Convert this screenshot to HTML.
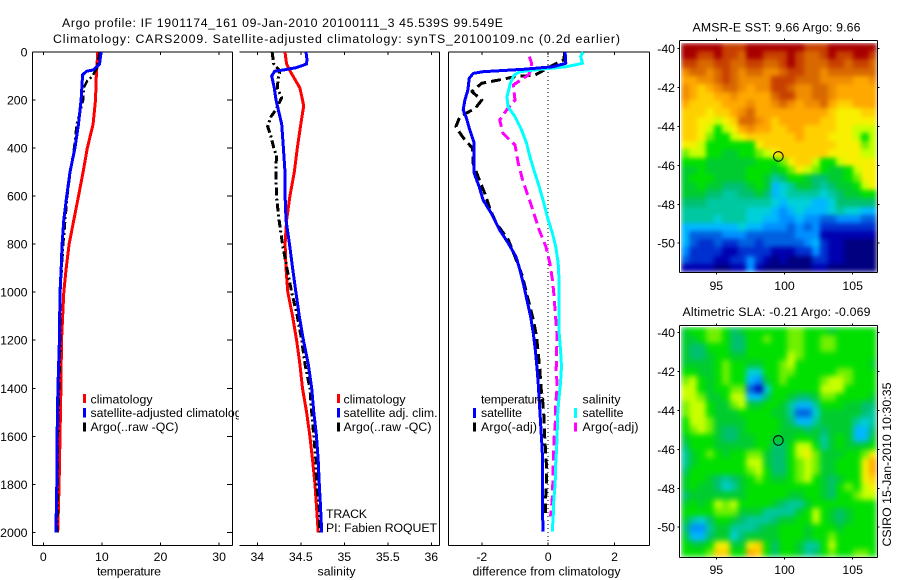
<!DOCTYPE html>
<html lang="en">
<head>
<meta charset="utf-8">
<title>Argo profile chart</title>
<style>
html,body{margin:0;padding:0;background:#fff;}
svg{display:block;font-family:"Liberation Sans",sans-serif;font-size:12.3px;fill:#000;}
</style>
</head>
<body>
<svg id="figure" width="900" height="580" viewBox="0 0 900 580" xmlns="http://www.w3.org/2000/svg">
  <defs>
    <clipPath id="panel1-legend-clip"><rect x="0" y="380" width="239" height="60"/></clipPath>
    <filter id="sst-soften" filterUnits="userSpaceOnUse" x="681" y="43" width="196" height="229" color-interpolation-filters="sRGB">
      <feGaussianBlur stdDeviation="2.4" edgeMode="duplicate"/>
    </filter>
    <filter id="sla-soften" filterUnits="userSpaceOnUse" x="681" y="327" width="196" height="230" color-interpolation-filters="sRGB">
      <feGaussianBlur stdDeviation="2.8" edgeMode="duplicate"/>
    </filter>
  </defs>
  <text x="62" y="27" textLength="441">Argo profile: IF 1901174_161 09-Jan-2010 20100111_3 45.539S 99.549E</text>
  <text x="53" y="43" textLength="567">Climatology: CARS2009. Satellite-adjusted climatology: synTS_20100109.nc (0.2d earlier)</text>

  <g id="panel-temp"></g>
  <g id="panel-sal"></g>
  <g id="panel-diff"></g>
  <g id="map-sst"></g>
  <g id="map-sla"></g>

  <text x="97" y="575.5" textLength="64">temperature</text>
  <text x="317.5" y="575.5" textLength="38">salinity</text>
  <text x="472.5" y="575.5" textLength="148">difference from climatology</text>

  <g>
    <rect x="83" y="394" width="3" height="9" fill="#f00"/>
    <text x="90.5" y="403.5" textLength="62">climatology</text>
    <rect x="83" y="408" width="3" height="9.5" fill="#00f"/>
    <text x="90.5" y="417" clip-path="url(#panel1-legend-clip)">satellite-adjusted climatology</text>
    <rect x="83" y="422.5" width="3" height="9" fill="#000"/>
    <text x="90.5" y="431" textLength="88">Argo(..raw -QC)</text>
  </g>
  <g>
    <rect x="337" y="394" width="3" height="9" fill="#f00"/>
    <text x="343.5" y="403.5" textLength="62">climatology</text>
    <rect x="337" y="408" width="3" height="9.5" fill="#00f"/>
    <text x="343.5" y="417" textLength="94">satellite adj. clim.</text>
    <rect x="337" y="422.5" width="3" height="9" fill="#000"/>
    <text x="343.5" y="431" textLength="88">Argo(..raw -QC)</text>
  </g>
  <g>
    <text x="481" y="403.5" textLength="64">temperature</text>
    <rect x="473" y="408" width="3" height="10" fill="#00f"/>
    <text x="481" y="417" textLength="41">satellite</text>
    <rect x="473" y="422.5" width="3" height="9" fill="#000"/>
    <text x="481" y="431" textLength="56">Argo(-adj)</text>
    <text x="582.5" y="403.5" textLength="38">salinity</text>
    <rect x="574" y="408" width="3" height="10" fill="#0ff"/>
    <text x="582.5" y="417" textLength="41">satellite</text>
    <rect x="574" y="422.5" width="3" height="9" fill="#f0f"/>
    <text x="582.5" y="431" textLength="56">Argo(-adj)</text>
  </g>

  <text x="326" y="518" textLength="41">TRACK</text>
  <text x="326" y="532" textLength="111">PI: Fabien ROQUET</text>

  <text x="692.5" y="31.5" textLength="168">AMSR-E SST: 9.66 Argo: 9.66</text>
  <text x="682.5" y="316" textLength="188">Altimetric SLA: -0.21 Argo: -0.069</text>
  <text transform="translate(891,546.5) rotate(-90)" textLength="164">CSIRO 15-Jan-2010 10:30:35</text>
</svg>
<script>
/* ---------- depth ticks ---------- */
const depthTicks = [0,200,400,600,800,1000,1200,1400,1600,1800,2000];
const tempTicks = [0,10,20,30];
const salTicks = [34,34.5,35,35.5,36];
const salTickLabels = ['34','34.5','35','35.5','36'];
const diffTicks = [-2,0,2];
const lonTicks = [95,100,105];
const latTicks = [-40,-42,-44,-46,-48,-50];
const argoLon = 99.549;
const argoLat = -45.539;

/* ---------- temperature profiles ---------- */
const tempClimDepth = [0,100,200,300,400,500,600,700,800,900,1000,1200,1400,1600,1800,2000];
const tempClimValue = [9.3,9.05,8.9,8.5,7.5,6.8,6.0,5.2,4.4,3.9,3.5,3.1,3.0,2.85,2.7,2.45];
const tempSatDepth = [0,50,75,80,95,200,300,400,500,600,700,800,900,1000,1200,1400,1600,1800,2000];
const tempSatValue = [9.85,9.6,8.5,7.4,6.7,6.45,6.0,5.4,4.55,4.0,3.5,3.2,3.05,2.85,2.75,2.5,2.35,2.3,2.15];
const tempArgoDepth = [0,70,100,120,150,200,250,300,400,500,600,800,1000,1200,1400,1600,1800,2000];
const tempArgoValue = [9.6,9.1,8.4,7.5,6.9,6.8,6.3,5.7,5.25,4.6,4.1,3.4,2.9,2.9,2.7,2.5,2.45,2.4];

/* ---------- salinity profiles ---------- */
const salClimDepth = [0,50,75,100,150,200,225,300,400,500,600,700,800,900,1000,1100,1200,1300,1400,1500,1600,1700,1800,1900,2000];
const salClimValue = [34.318,34.337,34.37,34.41,34.49,34.52,34.533,34.5,34.46,34.425,34.375,34.337,34.32,34.33,34.35,34.406,34.452,34.49,34.52,34.567,34.605,34.636,34.663,34.682,34.7];
const salSatDepth = [0,30,50,65,75,80,100,150,200,300,400,500,600,700,800,900,1000,1100,1200,1300,1400,1500,1600,1700,1800,1900,2000];
const salSatValue = [34.56,34.57,34.567,34.45,34.3,34.2,34.165,34.195,34.215,34.28,34.3,34.318,34.32,34.33,34.37,34.406,34.444,34.483,34.53,34.586,34.625,34.65,34.68,34.7,34.713,34.728,34.74];
const salArgoDepth = [0,50,80,110,150,190,240,270,310,350,400,430,500,600,700,800,900,1000,1100,1200,1300,1400,1500,1600,1700,1800,1900,2000];
const salArgoValue = [34.17,34.19,34.26,34.24,34.23,34.28,34.215,34.155,34.12,34.155,34.19,34.22,34.215,34.22,34.25,34.29,34.34,34.395,34.46,34.51,34.548,34.605,34.625,34.65,34.674,34.68,34.713,34.72];

/* ---------- differences from climatology ---------- */
const diffTempSatDepth = [0,47,61,72,82,89,110,158,200,241,276,325,380,436,505,560,616,672,741,797,852,908,963,1026,1101,1171,1240,1310,1379,1448,1518,1587,1657,1726,1795,1865,1934,1997];
const diffTempSatValue = [0.51,0.53,0.15,-0.75,-1.96,-2.26,-2.38,-2.42,-2.51,-2.56,-2.46,-2.36,-2.23,-2.23,-2.23,-2.08,-1.96,-1.71,-1.46,-1.2,-0.97,-0.85,-0.75,-0.65,-0.53,-0.45,-0.39,-0.34,-0.3,-0.27,-0.24,-0.21,-0.18,-0.17,-0.17,-0.17,-0.17,-0.15];
const diffTempArgoDepth = [0,33,54,96,103,117,130,165,200,235,269,311,353,401,464,519,589,658,713,783,852,935,1005,1115,1185,1254,1323,1393,1448,1518,1587,1657,1726,1795,1865,1920];
const diffTempArgoValue = [0.5,0.47,0.15,-0.4,-1.0,-1.5,-2.0,-2.3,-2.0,-2.2,-2.66,-2.78,-2.58,-2.28,-2.26,-2.11,-1.91,-1.74,-1.56,-1.2,-1.0,-0.77,-0.65,-0.45,-0.35,-0.3,-0.25,-0.22,-0.17,-0.13,-0.11,-0.08,-0.05,-0.05,-0.08,-0.08];
const diffSalSatDepth = [0,19,47,61,72,82,96,130,186,228,269,325,380,436,505,560,630,700,755,811,880,963,1026,1101,1171,1240,1310,1379,1448,1518,1587,1657,1726,1795,1865,1934,1997];
const diffSalSatValue = [1.05,0.98,1.03,0.55,-0.25,-0.85,-1.03,-1.14,-1.24,-1.21,-1.0,-0.8,-0.65,-0.55,-0.4,-0.27,-0.13,0,0.13,0.23,0.3,0.33,0.33,0.33,0.33,0.37,0.4,0.37,0.32,0.28,0.27,0.25,0.22,0.21,0.17,0.15,0.12];
const diffSalArgoDepth = [19,47,68,96,137,200,241,283,339,387,464,533,602,672,741,811,880,950,1005,1115,1185,1254,1323,1393,1462,1532,1601,1671,1726,1795,1865,1934];
const diffSalArgoValue = [-0.57,-0.5,-0.5,-0.6,-1.05,-1.0,-1.25,-1.46,-1.36,-1.0,-0.9,-0.77,-0.6,-0.43,-0.27,-0.07,0.05,0.13,0.17,0.23,0.27,0.25,0.24,0.27,0.23,0.22,0.18,0.16,0.15,0.14,0.12,0.07];

/* ---------- maps: colour level of each grid cell, north to south ---------- */
const sstLevels = [
[19,19,19,19,19,18,18,18,19,19,19,19,19,19,19,18,18,18,19,19,19,19,19,19],
[19,19,18,18,19,18,18,17,19,19,18,18,18,19,18,17,17,18,19,18,18,19,19,18],
[18,18,17,17,18,18,17,17,18,18,17,17,18,19,18,17,17,17,18,18,17,18,18,17],
[16,17,17,16,17,18,17,16,17,17,16,16,17,18,18,17,17,16,17,17,17,17,17,17],
[15,15,16,16,17,18,17,16,16,16,16,18,18,18,17,17,17,16,16,16,16,15,15,16],
[16,15,14,15,16,17,17,16,15,16,16,18,18,17,16,16,17,17,16,15,15,15,15,15],
[16,15,14,14,15,15,16,15,15,15,15,17,18,18,16,16,17,17,16,15,15,15,15,15],
[15,14,14,14,14,15,15,15,16,15,15,16,17,16,15,16,16,17,15,14,14,15,15,15],
[14,14,14,13,14,14,15,16,17,15,15,15,15,15,15,15,15,15,14,13,13,13,14,14],
[14,14,13,13,12,13,14,17,17,16,15,14,15,15,15,15,15,14,14,13,13,13,13,13],
[14,14,13,12,10,12,13,15,16,15,15,14,14,15,15,14,14,14,14,13,13,12,12,12],
[14,14,13,11,10,10,12,13,14,14,14,14,14,14,15,14,14,14,13,13,13,12,10,12],
[13,13,12,10,10,10,10,10,10,13,14,14,14,14,14,14,14,14,14,13,13,13,11,12],
[11,12,12,10,10,9,9,10,10,11,12,13,14,14,14,14,14,14,13,13,13,13,12,12],
[10,10,10,9,9,9,9,9,9,10,10,10,11,13,14,14,12,10,10,12,13,13,13,13],
[9,9,10,9,9,9,9,9,10,10,10,9,10,11,13,12,11,10,9,9,10,12,13,13],
[9,10,10,10,9,9,9,9,10,10,9,7,8,10,10,9,8,8,9,9,10,11,13,13],
[9,9,10,9,9,8,8,8,9,10,9,5,6,7,9,9,8,7,8,9,9,10,12,13],
[9,9,9,8,8,7,7,8,8,9,8,5,6,7,7,7,7,6,7,8,9,9,10,10],
[8,8,8,7,7,7,7,7,7,7,7,6,5,6,6,6,5,5,6,8,8,8,8,8],
[7,7,7,7,7,7,7,7,6,6,6,5,4,5,6,5,5,5,6,7,6,6,5,5],
[7,7,7,7,6,7,7,7,6,6,5,5,4,4,5,4,4,3,3,4,4,4,3,3],
[5,5,5,5,5,5,5,6,5,5,4,4,4,3,4,3,4,2,2,2,2,2,2,2],
[5,3,3,3,3,4,4,4,3,3,3,3,3,3,4,4,4,1,1,1,1,1,1,1],
[5,3,2,2,3,2,2,3,3,2,3,3,3,3,3,4,5,2,1,1,0,0,0,0],
[4,2,2,2,2,1,1,2,2,2,2,1,1,1,2,2,4,2,1,1,0,0,0,0],
[3,2,2,2,1,1,2,2,4,2,1,0,1,0,0,0,2,2,1,1,0,0,0,0],
[1,1,1,1,0,0,1,1,4,1,0,0,0,0,0,0,1,1,0,0,0,0,0,0]
];
const slaLevels = [
[9,10,10,11,11,10,8,9,10,10,10,10,10,11,11,10,10,10,9,10,10,10,10,10],
[9,9,10,11,11,10,8,8,10,10,11,10,10,11,11,10,10,11,11,10,10,10,10,10],
[9,8,8,10,10,10,8,8,10,10,10,10,10,11,11,10,10,11,11,10,10,10,10,10],
[9,8,8,9,10,10,9,9,10,10,10,10,10,12,11,10,10,10,10,10,10,10,10,10],
[9,9,9,9,10,11,10,10,9,9,10,10,11,12,10,10,10,10,10,10,10,10,10,9],
[10,10,9,9,10,11,10,10,6,6,10,10,11,11,10,10,10,10,10,11,11,10,10,10],
[11,12,10,9,10,11,10,10,5,4,9,10,11,10,10,10,10,11,12,12,11,10,10,10],
[12,12,10,9,10,10,11,11,3,1,6,10,10,10,10,10,10,12,12,12,10,10,10,10],
[12,12,11,9,9,10,12,12,5,5,8,10,10,9,8,8,9,11,11,10,10,10,10,9],
[11,12,12,10,9,9,11,12,9,9,10,10,9,7,5,5,7,10,10,10,9,9,8,8],
[11,12,12,10,9,9,9,10,10,10,10,9,9,7,3,3,6,9,9,9,9,9,8,7],
[10,12,12,11,9,9,9,9,10,10,10,10,9,8,5,5,7,9,9,9,9,7,6,7],
[10,11,12,11,9,8,8,9,10,10,10,10,9,9,9,8,9,8,9,9,9,5,5,8],
[9,10,10,10,9,8,8,9,9,10,10,9,9,9,10,10,9,7,9,10,9,5,5,9],
[8,10,10,10,9,9,9,9,9,10,10,8,8,10,12,12,10,7,9,10,9,9,9,10],
[7,9,10,11,10,9,10,10,11,11,9,8,8,10,12,13,11,9,9,9,10,10,11,13],
[7,9,10,10,10,10,10,10,12,12,9,8,8,10,11,12,11,9,9,10,10,10,13,15],
[8,10,10,10,10,10,10,10,11,12,10,8,8,10,11,12,11,9,9,10,10,10,13,15],
[9,10,10,9,8,7,8,9,10,11,10,9,9,10,11,12,10,9,8,9,10,10,13,14],
[9,10,9,9,8,6,7,9,10,10,10,10,10,10,10,10,10,9,8,10,11,10,12,13],
[8,9,9,9,9,9,9,9,10,10,10,10,10,9,9,10,10,9,8,10,10,11,12,12],
[9,10,9,10,12,11,12,10,10,10,10,9,8,7,7,9,10,10,10,10,10,10,10,10],
[10,10,10,10,11,11,11,9,9,9,7,7,7,7,9,10,12,10,9,8,9,10,10,10],
[9,7,6,8,10,10,9,8,7,7,7,8,9,9,10,10,12,10,9,8,9,10,10,10],
[8,4,4,7,9,9,7,7,7,8,9,9,10,10,10,9,10,10,10,9,10,10,10,10],
[9,5,5,8,9,9,6,8,9,9,9,9,10,10,10,9,10,10,11,10,10,10,10,10],
[10,9,9,10,13,13,9,9,13,14,10,8,10,10,9,7,7,10,12,10,10,10,10,10],
[10,10,10,11,14,14,10,10,15,14,10,8,10,10,9,7,8,10,11,10,10,11,11,10]
];

/* ---------- scales and palette ---------- */
const palette = ['#000080','#0000b0','#0030d0','#0060e0','#0090ff','#00b8ff','#00d0d8','#00c8a0','#00c070','#00cc30','#00e000','#70f000','#c8ff00','#f8f000','#ffd000','#ffa800','#f08c00','#d86800','#c84000','#a80000'];
const NS = 'http://www.w3.org/2000/svg';
const yDepth = d => 52 + d * 0.2402;
const xTemp = v => 43.3 + v * 5.86;
const xSal = v => 257.3 + (v - 34) * 87;
const xDiff = v => 548.2 + v * 33.2;
const xLon = lon => 716.3 + (lon - 95) * 13.64;
const yLatSst = lat => 48.7 + (-40 - lat) * 19.45;
const yLatSla = lat => 332.7 + (-40 - lat) * 19.45;

function mk(tag, parent, attrs, txt) {
  const el = document.createElementNS(NS, tag);
  for (const k in attrs) el.setAttribute(k, attrs[k]);
  if (txt !== undefined) el.textContent = txt;
  parent.appendChild(el);
  return el;
}
function seg(parent, x1, y1, x2, y2, name) {
  const el = mk('line', parent, {x1: x1, y1: y1, x2: x2, y2: y2, stroke: '#000', 'stroke-width': 1, 'shape-rendering': 'crispEdges'});
  
  
  return el;
}
function label(parent, x, y, anchor, txt, name) {
  const el = mk('text', parent, {x: x, y: y, 'text-anchor': anchor}, txt);
  
  
  return el;
}
function profile(parent, depths, values, xScale, color, width, dash, name) {
  const pts = depths.map((d, i) => xScale(values[i]).toFixed(1) + ',' + yDepth(d).toFixed(1)).join(' ');
  const el = mk('polyline', parent, {points: pts, fill: 'none', stroke: color, 'stroke-width': width, 'stroke-linejoin': 'round', 'shape-rendering': 'crispEdges'});
  if (dash) el.setAttribute('stroke-dasharray', dash);
  
  
  return el;
}
function panelFrame(parent, left, right, drawLeft, drawRight, name) {
  const top = 52, bottom = 545.5;
  seg(parent, left, top, right, top, name + '-top-edge');
  seg(parent, left, bottom, right, bottom, name + '-bottom-edge');
  if (drawLeft) seg(parent, left, top, left, bottom, name + '-left-edge');
  if (drawRight) seg(parent, right, top, right, bottom, name + '-right-edge');
}
function xAxis(parent, ticks, labels, xScale, name) {
  ticks.forEach((t, i) => {
    const x = xScale(t);
    seg(parent, x, 545.5, x, 542.5, name + '-tick-bottom');
    seg(parent, x, 52, x, 55, name + '-tick-top');
    label(parent, x, 561, 'middle', labels[i], name + '-tick-label');
  });
}

/* ---------- temperature panel ---------- */
const pTemp = document.getElementById('panel-temp');
panelFrame(pTemp, 32.5, 232.5, true, true, 'temperature-panel');
xAxis(pTemp, tempTicks, tempTicks.map(String), xTemp, 'temperature-x');
depthTicks.forEach(d => {
  const y = yDepth(d);
  seg(pTemp, 32.5, y, 35.5, y, 'depth-tick-left');
  seg(pTemp, 227, y, 232.5, y, 'depth-tick-right');
  label(pTemp, 27.5, y + 4.5, 'end', String(d), 'depth-tick-label');
});
profile(pTemp, tempClimDepth, tempClimValue, xTemp, '#f00', 3, null, 'temperature-climatology-line');
profile(pTemp, tempArgoDepth, tempArgoValue, xTemp, '#000', 2.5, '8 3 2 3', 'temperature-argo-line');
profile(pTemp, tempSatDepth, tempSatValue, xTemp, '#00f', 3, null, 'temperature-satellite-line');

/* ---------- salinity panel ---------- */
const pSal = document.getElementById('panel-sal');
panelFrame(pSal, 239.5, 439.5, false, true, 'salinity-panel');
xAxis(pSal, salTicks, salTickLabels, xSal, 'salinity-x');
profile(pSal, salClimDepth, salClimValue, xSal, '#f00', 3, null, 'salinity-climatology-line');
profile(pSal, salArgoDepth, salArgoValue, xSal, '#000', 3, '8 3 2 3', 'salinity-argo-line');
profile(pSal, salSatDepth, salSatValue, xSal, '#00f', 3, null, 'salinity-satellite-line');

/* ---------- difference panel ---------- */
const pDiff = document.getElementById('panel-diff');
panelFrame(pDiff, 448.5, 649.5, true, true, 'difference-panel');
xAxis(pDiff, diffTicks, diffTicks.map(String), xDiff, 'difference-x');
const zeroLine = mk('line', pDiff, {x1: xDiff(0), y1: 52, x2: xDiff(0), y2: 545, stroke: '#000', 'stroke-width': 1, 'stroke-dasharray': '1 3', 'shape-rendering': 'crispEdges'});


profile(pDiff, diffTempArgoDepth, diffTempArgoValue, xDiff, '#000', 3, '10 5', 'difference-temperature-argo-line');
profile(pDiff, diffSalArgoDepth, diffSalArgoValue, xDiff, '#f0f', 3, '10 5', 'difference-salinity-argo-line');
profile(pDiff, diffSalSatDepth, diffSalSatValue, xDiff, '#0ff', 3, null, 'difference-salinity-satellite-line');
profile(pDiff, diffTempSatDepth, diffTempSatValue, xDiff, '#00f', 3, null, 'difference-temperature-satellite-line');

/* ---------- maps ---------- */
function drawMap(parent, levels, imgTop, imgBottom, boxTop, boxBottom, yLat, xLabelY, softenId, name) {
  const imgLeft = 681, imgRight = 877;
  const rows = levels.length, cols = levels[0].length;
  const cw = (imgRight - imgLeft) / cols, ch = (imgBottom - imgTop) / rows;
  const cellGroup = mk('g', parent, {filter: 'url(#' + softenId + ')'});
  
  
  levels.forEach((row, r) => {
    row.forEach((lv, c) => {
      const x0 = Math.round(imgLeft + c * cw), x1 = Math.round(imgLeft + (c + 1) * cw);
      const y0 = Math.round(imgTop + r * ch), y1 = Math.round(imgTop + (r + 1) * ch);
      const cell = mk('rect', cellGroup, {x: x0, y: y0, width: x1 - x0, height: y1 - y0, fill: palette[lv], 'shape-rendering': 'crispEdges'});
      
      
    });
  });
  seg(parent, 679.5, boxTop, 877.5, boxTop, name + '-top-edge');
  seg(parent, 679.5, boxBottom, 877.5, boxBottom, name + '-bottom-edge');
  seg(parent, 679.5, boxTop, 679.5, boxBottom, name + '-left-edge');
  seg(parent, 877.5, boxTop, 877.5, boxBottom, name + '-right-edge');
  lonTicks.forEach(lon => {
    const x = xLon(lon);
    seg(parent, x, boxTop - 2, x, boxTop, name + '-lon-tick-top');
    seg(parent, x, boxBottom, x, boxBottom + 2, name + '-lon-tick-bottom');
    label(parent, x, xLabelY, 'middle', String(lon), name + '-lon-tick-label');
  });
  latTicks.forEach(lat => {
    const y = yLat(lat);
    seg(parent, 677.5, y, 679.5, y, name + '-lat-tick-left');
    seg(parent, 877.5, y, 879.5, y, name + '-lat-tick-right');
    label(parent, 675, y + 4.5, 'end', String(lat), name + '-lat-tick-label');
  });
  const marker = mk('circle', parent, {cx: xLon(argoLon), cy: yLat(argoLat), r: 4.8, fill: 'none', stroke: '#000', 'stroke-width': 1});
  
  
}
drawMap(document.getElementById('map-sst'), sstLevels, 43, 272, 40.5, 272.5, yLatSst, 290, 'sst-soften', 'sst-map');
drawMap(document.getElementById('map-sla'), slaLevels, 327, 557, 325.5, 557.5, yLatSla, 574, 'sla-soften', 'sla-map');
</script>
</body>
</html>
